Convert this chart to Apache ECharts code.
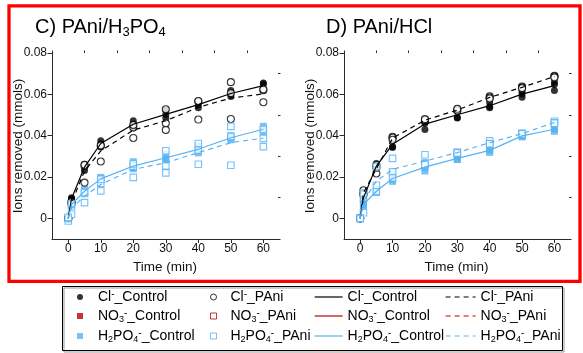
<!DOCTYPE html>
<html><head><meta charset="utf-8">
<script src="https://cdn.jsdelivr.net/npm/echarts@6/dist/echarts.min.js"></script>
<style>html,body{margin:0;padding:0;background:#fff}#c{width:583px;height:353px}</style>
</head><body><div id="c"></div>
<script>
// ---------- data ----------
const times = [0, 1, 5, 10, 20, 30, 40, 50, 60];
const xMajorTicks = [0, 10, 20, 30, 40, 50, 60];
const xMinorTicks = [-5, 5, 15, 25, 35, 45, 55];
const yMajorTicks = [0, 0.02, 0.04, 0.06, 0.08];
const yMinorTicks = [-0.01, 0.01, 0.03, 0.05, 0.07];

// Panel C) PAni/H3PO4
const cClCtrlMean = [0, 0.0095, 0.0248, 0.0362, 0.0455, 0.0503, 0.0550, 0.0604, 0.0642];
const cClCtrlRep1 = [0, 0.0100, 0.0262, 0.0375, 0.0472, 0.0523, 0.0567, 0.0618, 0.0655];
const cClCtrlRep2 = [0, 0.0095, 0.0250, 0.0360, 0.0455, 0.0502, 0.0550, 0.0602, 0.0650];
const cClCtrlRep3 = [0, 0.0090, 0.0232, 0.0345, 0.0438, 0.0485, 0.0535, 0.0590, 0.0620];
const cClPAniMean = [0, 0.0075, 0.0229, 0.0326, 0.0427, 0.0472, 0.0537, 0.0582, 0.0602];
const cClPAniRep1 = [0, 0.0070, 0.0173, 0.0275, 0.0389, 0.0428, 0.0478, 0.0659, 0.0562];
const cClPAniRep2 = [0, 0.0075, 0.0255, 0.0350, 0.0440, 0.0460, 0.0565, 0.0481, 0.0620];
const cClPAniRep3 = [0, 0.0080, 0.0259, 0.0353, 0.0452, 0.0528, 0.0568, 0.0606, 0.0624];
const cHPCtrlMean = [0, 0.0067, 0.0131, 0.0191, 0.0253, 0.0293, 0.0334, 0.0390, 0.0431];
const cHPCtrlRep1 = [0, 0.0070, 0.0141, 0.0198, 0.0274, 0.0310, 0.0350, 0.0400, 0.0445];
const cHPCtrlRep2 = [0, 0.0067, 0.0127, 0.0190, 0.0246, 0.0287, 0.0335, 0.0390, 0.0430];
const cHPCtrlRep3 = [0, 0.0064, 0.0125, 0.0185, 0.0240, 0.0282, 0.0317, 0.0380, 0.0418];
const cHPPAniMean = [0, 0.0050, 0.0107, 0.0164, 0.0237, 0.0269, 0.0318, 0.0366, 0.0388];
const cHPPAniRep1 = [-0.0013, 0.0020, 0.0076, 0.0133, 0.0198, 0.0220, 0.0262, 0.0257, 0.0347];
const cHPPAniRep2 = [0, 0.0060, 0.0120, 0.0170, 0.0250, 0.0254, 0.0330, 0.0396, 0.0387];
const cHPPAniRep3 = [0.0005, 0.0070, 0.0125, 0.0189, 0.0263, 0.0327, 0.0362, 0.0445, 0.0430];

// Panel D) PAni/HCl
const dClCtrlMean = [0, 0.0099, 0.0253, 0.0358, 0.0456, 0.0501, 0.0545, 0.0601, 0.0642];
const dClCtrlRep1 = [0, 0.0100, 0.0265, 0.0384, 0.0478, 0.0530, 0.0560, 0.0615, 0.0660];
const dClCtrlRep2 = [0, 0.0110, 0.0248, 0.0348, 0.0460, 0.0486, 0.0540, 0.0602, 0.0648];
const dClCtrlRep3 = [0, 0.0085, 0.0245, 0.0343, 0.0430, 0.0488, 0.0535, 0.0586, 0.0618];
const dClPAniMean = [0, 0.0123, 0.0240, 0.0388, 0.0475, 0.0524, 0.0585, 0.0634, 0.0686];
const dClPAniRep1 = [0, 0.0136, 0.0217, 0.0395, 0.0470, 0.0520, 0.0590, 0.0638, 0.0690];
const dClPAniRep2 = [0, 0.0118, 0.0245, 0.0390, 0.0475, 0.0522, 0.0585, 0.0634, 0.0686];
const dClPAniRep3 = [0, 0.0115, 0.0258, 0.0380, 0.0480, 0.0530, 0.0580, 0.0630, 0.0682];
const dHPCtrlMean = [0, 0.0067, 0.0131, 0.0193, 0.0248, 0.0290, 0.0329, 0.0399, 0.0431];
const dHPCtrlRep1 = [0, 0.0075, 0.0140, 0.0210, 0.0270, 0.0300, 0.0340, 0.0405, 0.0440];
const dHPCtrlRep2 = [0, 0.0065, 0.0128, 0.0190, 0.0245, 0.0285, 0.0328, 0.0398, 0.0432];
const dHPCtrlRep3 = [0, 0.0061, 0.0125, 0.0179, 0.0229, 0.0285, 0.0319, 0.0394, 0.0421];
const dHPPAniMean = [0, 0.0083, 0.0180, 0.0237, 0.0277, 0.0318, 0.0366, 0.0410, 0.0464];
const dHPPAniRep1 = [0, 0.0027, 0.0130, 0.0290, 0.0308, 0.0320, 0.0375, 0.0412, 0.0470];
const dHPPAniRep2 = [0, 0.0100, 0.0160, 0.0225, 0.0262, 0.0318, 0.0362, 0.0410, 0.0462];
const dHPPAniRep3 = [0, 0.0122, 0.0250, 0.0196, 0.0261, 0.0316, 0.0361, 0.0408, 0.0460];

// ---------- helpers ----------
const FONT = '"Liberation Sans", Arial, sans-serif';
const BLACK = '#000000';
const BLUE = '#58B3F4';
const RED = '#C00000';
const SQUARE = 'path://M0 0H10V10H0Z';

function repPts(reps) {
  const out = [];
  reps.forEach(r => r.forEach((v, i) => out.push([times[i], v])));
  return out;
}
function meanPts(m) { return m.map((v, i) => [times[i], v]); }

const LABELS = {
  ClCtrlPts: '{t|Cl}{sp|-}{t|_Control}',
  ClPAniPts: '{t|Cl}{sp|-}{t|_PAni}',
  ClCtrlLine: '{t|Cl}{sp|-}{t|_Control}',
  ClPAniLine: '{t|Cl}{sp|-}{t|_PAni}',
  NOCtrlPts: '{t|NO}{sb|3}{sp|-}{t|_Control}',
  NOPAniPts: '{t|NO}{sb|3}{sp|-}{t|_PAni}',
  NOCtrlLine: '{t|NO}{sb|3}{sp|-}{t|_Control}',
  NOPAniLine: '{t|NO}{sb|3}{sp|-}{t|_PAni}',
  HPCtrlPts: '{t|H}{sb|2}{t|PO}{sb|4}{sp|-}{t|_Control}',
  HPPAniPts: '{t|H}{sb|2}{t|PO}{sb|4}{sp|-}{t|_PAni}',
  HPCtrlLine: '{t|H}{sb|2}{t|PO}{sb|4}{sp|-}{t|_Control}',
  HPPAniLine: '{t|H}{sb|2}{t|PO}{sb|4}{sp|-}{t|_PAni}'
};

function panelSeries(ai, d) {
  const common = { xAxisIndex: ai, yAxisIndex: ai, animation: false };
  const filled = (name, sym, color, data) => Object.assign({
    name, type: 'scatter', symbol: sym, symbolSize: 7,
    itemStyle: { color: color, borderWidth: 0 }, data, z: 3
  }, common);
  const open = (name, sym, color, data) => Object.assign({
    name, type: 'scatter', symbol: sym, symbolSize: sym === 'circle' ? 7 : 6.5,
    itemStyle: { color: '#ffffff', borderColor: color, borderWidth: 1.1 }, data, z: 4
  }, common);
  const line = (name, color, dashed, data) => Object.assign({
    name, type: 'line', symbol: 'none', data, z: 5,
    lineStyle: { color: color, width: 1.2, type: dashed ? [5, 4] : 'solid' },
    itemStyle: { color: color }
  }, common);
  return [
    filled('ClCtrlPts', 'circle', BLACK, repPts(d.clCtrlReps)),
    filled('HPCtrlPts', 'rect', BLUE, repPts(d.hpCtrlReps)),
    open('ClPAniPts', 'circle', BLACK, repPts(d.clPAniReps)),
    open('HPPAniPts', 'rect', BLUE, repPts(d.hpPAniReps)),
    line('ClCtrlLine', BLACK, false, meanPts(d.clCtrlMean)),
    line('ClPAniLine', BLACK, true, meanPts(d.clPAniMean)),
    line('HPCtrlLine', BLUE, false, meanPts(d.hpCtrlMean)),
    line('HPPAniLine', BLUE, true, meanPts(d.hpPAniMean))
  ];
}

const seriesC = panelSeries(0, {
  clCtrlReps: [cClCtrlRep1, cClCtrlRep2, cClCtrlRep3], clCtrlMean: cClCtrlMean,
  clPAniReps: [cClPAniRep1, cClPAniRep2, cClPAniRep3], clPAniMean: cClPAniMean,
  hpCtrlReps: [cHPCtrlRep1, cHPCtrlRep2, cHPCtrlRep3], hpCtrlMean: cHPCtrlMean,
  hpPAniReps: [cHPPAniRep1, cHPPAniRep2, cHPPAniRep3], hpPAniMean: cHPPAniMean
});
const seriesD = panelSeries(2, {
  clCtrlReps: [dClCtrlRep1, dClCtrlRep2, dClCtrlRep3], clCtrlMean: dClCtrlMean,
  clPAniReps: [dClPAniRep1, dClPAniRep2, dClPAniRep3], clPAniMean: dClPAniMean,
  hpCtrlReps: [dHPCtrlRep1, dHPCtrlRep2, dHPCtrlRep3], hpCtrlMean: dHPCtrlMean,
  hpPAniReps: [dHPPAniRep1, dHPPAniRep2, dHPPAniRep3], hpPAniMean: dHPPAniMean
});
// NO3- series appear in the legend only (no data in these panels)
const seriesNO = [
  { name: 'NOCtrlPts', type: 'scatter', symbol: 'rect', data: [], itemStyle: { color: RED, borderWidth: 0 } },
  { name: 'NOPAniPts', type: 'scatter', symbol: 'rect', data: [], itemStyle: { color: '#ffffff', borderColor: RED, borderWidth: 1.1 } },
  { name: 'NOCtrlLine', type: 'line', symbol: 'none', data: [], lineStyle: { color: RED, width: 1.2 }, itemStyle: { color: RED } },
  { name: 'NOPAniLine', type: 'line', symbol: 'none', data: [], lineStyle: { color: RED, width: 1.2, type: [5, 4] }, itemStyle: { color: RED } }
];

// ---------- axes ----------
const AXC = '#2b2b2b';
const TXT = '#111111';
function xAxes(gi) {
  return [
    { gridIndex: gi, type: 'value', min: -5, max: 64.5,
      name: 'Time (min)', nameLocation: 'middle', nameGap: 21, nameMoveOverlap: false,
      nameTextStyle: { fontFamily: FONT, fontSize: 13.5, color: TXT },
      axisLine: { show: true, onZero: false, lineStyle: { color: AXC, width: 1 } },
      axisTick: { show: true, inside: false, length: 4, customValues: xMajorTicks, lineStyle: { color: AXC } },
      axisLabel: { show: true, margin: 4, customValues: xMajorTicks, fontFamily: FONT, fontSize: 12, color: TXT },
      splitLine: { show: false } },
    { gridIndex: gi, type: 'value', min: -5, max: 64.5,
      axisLine: { show: false, onZero: false },
      axisTick: { show: true, inside: false, length: 2.5, customValues: xMinorTicks, lineStyle: { color: AXC } },
      axisLabel: { show: false }, splitLine: { show: false } }
  ];
}
function yAxes(gi) {
  return [
    { gridIndex: gi, type: 'value', min: -0.01, max: 0.08,
      name: 'Ions removed (mmols)', nameLocation: 'middle', nameGap: 27, nameMoveOverlap: false,
      nameTextStyle: { fontFamily: FONT, fontSize: 13.5, color: TXT },
      axisLine: { show: true, onZero: false, lineStyle: { color: AXC, width: 1 } },
      axisTick: { show: true, inside: false, length: 4.5, customValues: yMajorTicks, lineStyle: { color: AXC } },
      axisLabel: { show: true, margin: 5, customValues: yMajorTicks, fontFamily: FONT, fontSize: 12, color: TXT,
        formatter: v => (Math.abs(v) < 1e-9 ? '0' : v.toFixed(2)) },
      splitLine: { show: false } },
    { gridIndex: gi, type: 'value', min: -0.01, max: 0.08,
      axisLine: { show: false, onZero: false },
      axisTick: { show: true, inside: false, length: 2.5, customValues: yMinorTicks, lineStyle: { color: AXC } },
      axisLabel: { show: false }, splitLine: { show: false } }
  ];
}

// ---------- legend ----------
const legendRich = {
  t: { fontFamily: FONT, fontSize: 14, lineHeight: 16, color: '#000' },
  sb: { fontFamily: FONT, fontSize: 9, lineHeight: 9, verticalAlign: 'bottom', color: '#000' },
  sp: { fontFamily: FONT, fontSize: 10, lineHeight: 10, verticalAlign: 'top', color: '#000' }
};
function legendCol(left, itemWidth, names, extra) {
  return Object.assign({
    orient: 'vertical', left: left, top: 289, padding: 0, itemGap: 4,
    itemWidth: itemWidth, itemHeight: 6, selectedMode: false,
    data: names, formatter: n => LABELS[n],
    textStyle: { fontFamily: FONT, fontSize: 14, color: '#000', rich: legendRich }
  }, extra || {});
}

const titleRich = {
  a: { fontFamily: FONT, fontSize: 20, fontWeight: 'normal', lineHeight: 24, color: '#000' },
  s: { fontFamily: FONT, fontSize: 13, fontWeight: 'normal', lineHeight: 11, verticalAlign: 'bottom', color: '#000' }
};

const option = {
  animation: false,
  backgroundColor: '#ffffff',
  title: [
    { left: 35, top: 15, padding: 0,
      text: '{a|C) PAni/H}{s|3}{a|PO}{s|4}',
      textStyle: { fontWeight: 'normal', fontSize: 20, fontFamily: FONT, rich: titleRich } },
    { left: 326, top: 15, padding: 0,
      text: '{a|D) PAni/HCl}',
      textStyle: { fontWeight: 'normal', fontSize: 20, fontFamily: FONT, rich: titleRich } }
  ],
  grid: [
    { left: 52, top: 53, width: 226, height: 186 },
    { left: 344, top: 53, width: 225, height: 186 }
  ],
  xAxis: [].concat(xAxes(0), xAxes(1)),
  yAxis: [].concat(yAxes(0), yAxes(1)),
  legend: [
    legendCol(77, 26, ['ClCtrlPts', { name: 'NOCtrlPts', icon: SQUARE }, { name: 'HPCtrlPts', icon: SQUARE }],
      { itemStyle: { borderWidth: 0 } }),
    legendCol(210, 24, ['ClPAniPts', { name: 'NOPAniPts', icon: SQUARE }, { name: 'HPPAniPts', icon: SQUARE }],
      { itemStyle: { borderWidth: 1 } }),
    legendCol(314, 28, ['ClCtrlLine', 'NOCtrlLine', 'HPCtrlLine'],
      { lineStyle: { width: 1.2 }, itemStyle: { color: 'rgba(0,0,0,0)', borderWidth: 0, opacity: 0 } }),
    legendCol(445, 30, ['ClPAniLine', 'NOPAniLine', 'HPPAniLine'],
      { lineStyle: { width: 1.2 }, itemStyle: { color: 'rgba(0,0,0,0)', borderWidth: 0, opacity: 0 } })
  ],
  graphic: [
    { type: 'rect', z: 100, silent: true,
      shape: { x: 9, y: 5.8, width: 571, height: 275.5 },
      style: { fill: 'none', stroke: '#ff0000', lineWidth: 3.3 } },
    { type: 'rect', z: -1, silent: true,
      shape: { x: 64, y: 288, width: 500, height: 64 },
      style: { fill: 'none', stroke: '#9a9a9a', lineWidth: 1 } },
    { type: 'rect', z: 0, silent: true,
      shape: { x: 62.5, y: 286.5, width: 500, height: 64 },
      style: { fill: 'none', stroke: '#000', lineWidth: 1 } }
  ],
  series: [].concat(seriesC, seriesD, seriesNO)
};

const chart = echarts.init(document.getElementById('c'), null, { renderer: 'canvas' });
chart.setOption(option);
</script></body></html>
